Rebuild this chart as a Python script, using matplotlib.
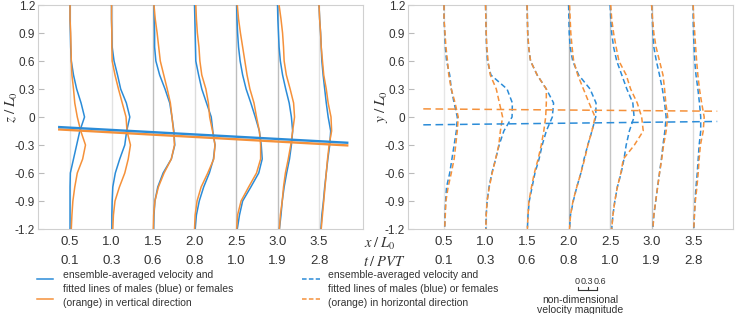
import numpy as np
import matplotlib
matplotlib.use('Agg')
import matplotlib.pyplot as plt
from matplotlib.lines import Line2D
from matplotlib.transforms import blended_transform_factory

plt.rcParams['font.family'] = ['Liberation Sans', 'DejaVu Sans']
plt.rcParams['mathtext.fontset'] = 'stix'

# height levels where the profiles were read
z = [1.2, 1.05, 0.9, 0.75, 0.6, 0.45, 0.3, 0.15, 0.0,
     -0.15, -0.3, -0.45, -0.6, -0.75, -0.9, -1.05, -1.2]

x_pos = [0.5, 1.0, 1.5, 2.0, 2.5, 3.0, 3.5]
x_labels = ['0.5', '1.0', '1.5', '2.0', '2.5', '3.0', '3.5']
t_labels = ['0.1', '0.3', '0.6', '0.8', '1.0', '1.9', '2.8']

# non-dimensional velocity, vertical direction (z / L0)
vert_male = [
    [0, 0, .01, .02, .04, .11, .21, .35, .46, .31, .21, .11, .01, 0, 0, 0, 0],
    [0, 0, .01, .02, .08, .19, .29, .47, .58, .48, .42, .26, .12, .04, .02, .01, .01],
    [.03, .04, .05, .05, .09, .21, .38, .53, .60, .66, .69, .58, .32, .15, .06, .03, .02],
    [0, .01, .02, .03, .04, .13, .23, .38, .53, .58, .65, .60, .47, .29, .15, .06, .02],
    [.02, .03, .05, .08, .13, .21, .32, .47, .61, .74, .80, .83, .72, .47, .21, .11, .04],
    [0, .01, .03, .05, .09, .16, .26, .37, .44, .48, .44, .38, .29, .21, .15, .11, .06],
    [0, .02, .05, .07, .09, .13, .18, .23, .29, .37, .34, .28, .23, .18, .14, .09, .06],
]
vert_female = [
    [0, 0, .02, .03, .04, .06, .11, .15, .23, .34, .49, .40, .23, .15, .09, .06, .04],
    [0, 0, .01, .01, .02, .11, .22, .34, .46, .49, .60, .53, .42, .25, .11, .06, .04],
    [.03, .07, .13, .18, .23, .34, .45, .55, .60, .65, .68, .58, .35, .17, .06, .02, .01],
    [.04, .06, .09, .14, .17, .23, .36, .44, .48, .57, .65, .61, .42, .21, .08, .02, 0],
    [.04, .08, .14, .21, .28, .35, .44, .57, .65, .74, .78, .78, .65, .40, .16, .05, .02],
    [.05, .11, .16, .19, .21, .28, .40, .51, .54, .48, .42, .34, .25, .19, .15, .09, .06],
    [0, .02, .05, .07, .11, .15, .23, .29, .38, .40, .32, .27, .23, .19, .15, .11, .07],
]
# non-dimensional velocity, horizontal direction (y / L0)
horiz_male = [
    [0, 0, .02, .04, .08, .18, .23, .32, .42, .39, .32, .25, .18, .08, .05, .03, .02],
    [0, .01, .02, .03, .06, .17, .68, .85, .84, .58, .43, .32, .20, .11, .05, .02, .01],
    [0, .01, .02, .05, .11, .32, .61, .84, .80, .61, .48, .38, .25, .16, .07, .03, .01],
    [0, .01, .02, .05, .13, .32, .68, .87, .86, .74, .61, .49, .39, .26, .15, .06, .03],
    [0, .02, .05, .11, .21, .37, .53, .72, .76, .61, .51, .44, .35, .23, .15, .09, .05],
    [0, .02, .04, .07, .15, .25, .34, .41, .46, .42, .36, .31, .25, .19, .13, .07, .04],
    [0, 0, .01, .03, .05, .09, .15, .20, .24, .24, .19, .16, .13, .09, .06, .04, .02],
]
horiz_female = [
    [0, 0, .03, .06, .11, .15, .23, .35, .45, .42, .37, .32, .23, .13, .06, .04, .02],
    [0, .01, .02, .04, .08, .15, .34, .44, .54, .47, .42, .32, .21, .12, .05, .02, .01],
    [0, .01, .02, .05, .11, .32, .61, .61, .59, .53, .45, .35, .23, .14, .06, .03, .01],
    [.03, .05, .07, .11, .16, .29, .47, .65, .84, .74, .61, .51, .39, .26, .14, .06, .03],
    [.02, .05, .11, .19, .28, .51, .65, .86, 1.0, 1.05, .77, .42, .34, .23, .15, .09, .05],
    [0, .03, .07, .14, .25, .36, .41, .45, .51, .46, .38, .32, .25, .19, .13, .07, .04],
    [0, .02, .05, .08, .11, .15, .20, .27, .35, .32, .23, .19, .16, .12, .07, .04, .02],
]

# fitted lines: (slope, intercept), drawn over a range of x / L0
vert_fit_male = (-0.0484, -0.090)
vert_fit_female = (-0.0493, -0.115)
vert_fit_range = [0.37, 3.84]
horiz_fit_male = (0.0102, -0.0865)
horiz_fit_female = (-0.0071, 0.0888)
horiz_fit_range = [0.25, 3.79]

yticks = [1.2, 0.9, 0.6, 0.3, 0, -0.3, -0.6, -0.9, -1.2]
ytick_labels = ['1.2', '0.9', '0.6', '0.3', '0', '-0.3', '-0.6', '-0.9', '-1.2']

scale_vals = [0, 0.3, 0.6]
scale_labels = ['0', '0.3', '0.6']

VSCALE = 0.38   # x / L0 units per unit of velocity
BLUE = '#2b8cd8'
ORANGE = '#f5913a'
TXT = '#333333'

fig = plt.figure(figsize=(7.4, 3.14), dpi=100)
ax1 = fig.add_axes([38 / 740, 85 / 314, 325 / 740, 224 / 314])
ax2 = fig.add_axes([408 / 740, 85 / 314, 325 / 740, 224 / 314])

vcol1 = ['#e2e2e2', '#e2e2e2', '#bdbdbd', '#dcdcdc', '#bdbdbd', '#bdbdbd', '#e2e2e2']
vcol2 = ['#e6e6e6', '#e6e6e6', '#e6e6e6', '#b5b5b5', '#c4c4c4', '#c4c4c4', '#dddddd']


def panel(ax, male, female, fit_m, fit_f, fit_range, vcols, dashed, ylab, xlim):
    for i, x0 in enumerate(x_pos):
        ax.axvline(x0, color=vcols[i], lw=1.0, zorder=1)
    ls = (0, (3.5, 2)) if dashed else '-'
    for i, x0 in enumerate(x_pos):
        ax.plot(x0 + VSCALE * np.array(male[i]), z, color=BLUE, lw=1.1, ls=ls, zorder=3)
        ax.plot(x0 + VSCALE * np.array(female[i]), z, color=ORANGE, lw=1.1, ls=ls, zorder=3)
    xf = np.array(fit_range)
    lw = 1.1 if dashed else 1.7
    fls = (0, (5, 3)) if dashed else '-'
    ax.plot(xf, fit_f[0] * xf + fit_f[1], color=ORANGE, lw=lw, ls=fls, zorder=4)
    ax.plot(xf, fit_m[0] * xf + fit_m[1], color=BLUE, lw=lw, ls=fls, zorder=4)
    ax.set_xlim(xlim)
    ax.set_ylim(-1.2, 1.2)
    ax.set_yticks(yticks, labels=ytick_labels)
    ax.set_xticks([])
    ax.tick_params(axis='y', direction='in', length=4, color='#bbbbbb',
                   labelsize=8.5, labelcolor=TXT, pad=2)
    for s in ax.spines.values():
        s.set_color('#d0d0d0')
        s.set_linewidth(0.8)
    ax.set_ylabel(ylab, fontsize=11, color=TXT)
    ax.yaxis.set_label_coords(-0.055, 0.545)
    tr = blended_transform_factory(ax.transData, fig.transFigure)
    for x0, xl, tl in zip(x_pos, x_labels, t_labels):
        ax.text(x0, (314 - 242) / 314, xl, transform=tr, ha='center', va='center',
                fontsize=9.5, color=TXT)
        ax.text(x0, (314 - 261) / 314, tl, transform=tr, ha='center', va='center',
                fontsize=9.5, color=TXT)


panel(ax1, vert_male, vert_female, vert_fit_male, vert_fit_female, vert_fit_range,
      vcol1, False, r'$z\;/\;L_0$', (0.114, 4.03))
panel(ax2, horiz_male, horiz_female, horiz_fit_male, horiz_fit_female, horiz_fit_range,
      vcol2, True, r'$y\;/\;L_0$', (0.066, 3.98))

fig.text(380 / 740, (314 - 244) / 314, r'$x\;/\;L_0$', ha='center', va='center',
         fontsize=10.5, color=TXT)
fig.text(385 / 740, (314 - 262) / 314, r'$t\;/\;PVT$', ha='center', va='center',
         fontsize=10.5, color=TXT)

# legends
leg_lines = ['ensemble-averaged velocity and',
             'fitted lines of males (blue) or females',
             '(orange) in vertical direction']
leg_lines2 = ['ensemble-averaged velocity and',
              'fitted lines of males (blue) or females',
              '(orange) in horizontal direction']
for x0, x1, xt, lines, ls in [(37, 53, 63, leg_lines, '-'),
                              (302, 320, 328, leg_lines2, (0, (3, 1.5)))]:
    fig.add_artist(Line2D([x0 / 740, x1 / 740], [(314 - 279) / 314] * 2,
                          color=BLUE, lw=1.1, ls=ls))
    fig.add_artist(Line2D([x0 / 740, x1 / 740], [(314 - 299) / 314] * 2,
                          color=ORANGE, lw=1.1, ls=ls))
    for k, s in enumerate(lines):
        fig.text(xt / 740, (314 - 275 - 14 * k) / 314, s, ha='left', va='center',
                 fontsize=7.5, color=TXT)

# velocity scale bar
trb = blended_transform_factory(ax2.transData, fig.transFigure)
sb0 = 2.115
yb = (314 - 290) / 314
ax2.plot([sb0, sb0 + VSCALE * scale_vals[-1]], [yb, yb], transform=trb,
         color=TXT, lw=0.8, clip_on=False)
for v, lab, dx in zip(scale_vals, scale_labels, [-1, -0.5, 2.5]):
    ax2.plot([sb0 + VSCALE * v] * 2, [yb, yb + 3 / 314], transform=trb,
             color=TXT, lw=0.8, clip_on=False)
    ax2.annotate(lab, (sb0 + VSCALE * v, (314 - 282) / 314), xycoords=trb,
                 xytext=(dx * 0.72, 0), textcoords='offset points',
                 ha='center', va='center', fontsize=6.5, color=TXT)
fig.text(580 / 740, (314 - 300) / 314, 'non-dimensional', ha='center', va='center',
         fontsize=7.5, color=TXT)
fig.text(580 / 740, (314 - 310) / 314, 'velocity magnitude', ha='center', va='center',
         fontsize=7.5, color=TXT)

fig.savefig('out.png', dpi=100)
